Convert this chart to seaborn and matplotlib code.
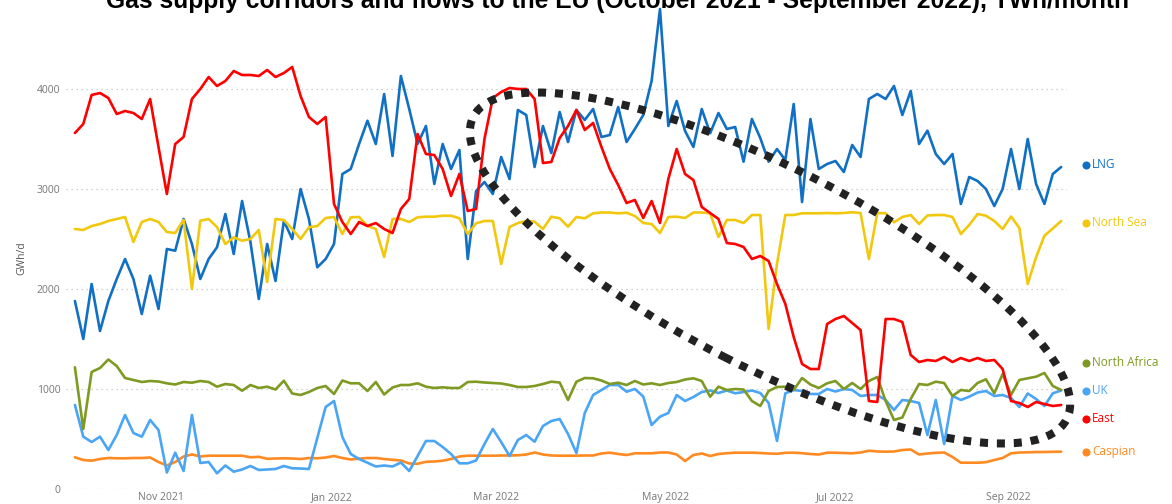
import pandas as pd
import matplotlib.pyplot as plt
import matplotlib.dates as mdates
import matplotlib.transforms as mtransforms
from matplotlib.patches import Ellipse
import seaborn as sns

# Fechas: cada 3 dias, 1 oct 2021 - 20 sep 2022
fechas = pd.date_range("2021-10-01", "2022-09-20", freq="3D")

# Valores (GWh/d)
lng = [1880, 1500, 2050, 1580, 1880, 2100, 2300, 2100, 1750, 2133,
       1800, 2400, 2383, 2700, 2450, 2100, 2300, 2417, 2750, 2350,
       2880, 2470, 1900, 2450, 2080, 2680, 2500, 3000, 2700, 2217,
       2300, 2450, 3150, 3200, 3450, 3683, 3450, 3950, 3330, 4130,
       3800, 3450, 3630, 3050, 3450, 3200, 3390, 2300, 2980, 3070,
       2950, 3320, 3100, 3790, 3740, 3220, 3630, 3360, 3770, 3470,
       3790, 3690, 3800, 3520, 3540, 3820, 3470, 3600, 3740, 4080,
       4800, 3630, 3880, 3580, 3420, 3800, 3557, 3760, 3600, 3620,
       3273, 3700, 3510, 3273, 3400, 3290, 3850, 2870, 3700, 3200,
       3250, 3280, 3170, 3440, 3320, 3900, 3950, 3900, 4030, 3740,
       3980, 3450, 3583, 3350, 3250, 3350, 2850, 3120, 3080, 3000,
       2830, 3000, 3400, 3000, 3500, 3050, 2850, 3150, 3220]

north_sea = [2600, 2590, 2630, 2650, 2680, 2700, 2720, 2470, 2670, 2700,
             2670, 2570, 2560, 2690, 2000, 2683, 2700, 2620, 2450, 2517,
             2483, 2500, 2590, 2070, 2700, 2690, 2600, 2500, 2617, 2630,
             2710, 2720, 2550, 2717, 2720, 2630, 2600, 2320, 2700, 2700,
             2670, 2717, 2723, 2723, 2733, 2733, 2707, 2550, 2657, 2680,
             2680, 2250, 2620, 2660, 2680, 2673, 2600, 2723, 2707, 2623,
             2720, 2707, 2757, 2765, 2765, 2757, 2763, 2730, 2660, 2650,
             2560, 2720, 2723, 2710, 2765, 2765, 2757, 2520, 2690, 2690,
             2660, 2740, 2740, 1600, 2250, 2740, 2740, 2757, 2757, 2757,
             2760, 2757, 2760, 2767, 2760, 2300, 2760, 2757, 2667, 2720,
             2740, 2650, 2735, 2740, 2740, 2720, 2550, 2640, 2750, 2733,
             2680, 2600, 2725, 2610, 2050, 2317, 2533, 2605, 2680]

north_africa = [1217, 600, 1170, 1210, 1295, 1230, 1110, 1090, 1070, 1080,
                1075, 1057, 1045, 1070, 1063, 1080, 1070, 1023, 1050, 1040,
                983, 1040, 1010, 1023, 995, 1083, 955, 940, 970, 1010,
                1030, 950, 1085, 1057, 1057, 980, 1070, 945, 1015, 1040,
                1040, 1057, 1023, 1010, 1017, 1010, 1010, 1070, 1073, 1065,
                1060, 1055, 1040, 1020, 1020, 1030, 1050, 1073, 1065, 890,
                1073, 1110, 1107, 1085, 1050, 1063, 1040, 1080, 1045, 1057,
                1040, 1060, 1070, 1095, 1107, 1080, 923, 1023, 990, 1000,
                995, 880, 830, 980, 1020, 1023, 990, 1110, 1045, 1010,
                1057, 1080, 1000, 1060, 1000, 1080, 1120, 880, 690, 715,
                900, 1050, 1040, 1073, 1060, 930, 990, 980, 1060, 1097,
                957, 1150, 940, 1090, 1107, 1123, 1160, 1030, 990]

uk = [840, 523, 470, 523, 390, 540, 740, 560, 523, 690,
      590, 165, 363, 180, 740, 260, 270, 157, 235, 173,
      195, 230, 190, 195, 200, 230, 207, 205, 200, 510,
      820, 880, 520, 350, 300, 263, 225, 235, 225, 265,
      180, 330, 480, 480, 420, 350, 257, 257, 285, 450,
      600, 470, 330, 490, 540, 473, 630, 680, 700, 550,
      360, 760, 940, 990, 1040, 1040, 973, 1000, 925, 640,
      723, 760, 940, 880, 920, 970, 985, 960, 985, 957,
      970, 985, 960, 860, 480, 957, 990, 980, 950, 950,
      1000, 975, 1000, 990, 930, 940, 940, 890, 790, 890,
      880, 860, 540, 890, 450, 930, 890, 923, 965, 980,
      930, 940, 910, 820, 955, 900, 830, 957, 985]

east = [3560, 3650, 3940, 3960, 3910, 3750, 3780, 3760, 3700, 3900,
        3420, 2950, 3450, 3520, 3900, 4000, 4120, 4030, 4080, 4180,
        4140, 4140, 4130, 4190, 4120, 4160, 4220, 3930, 3720, 3650,
        3720, 2850, 2670, 2550, 2670, 2630, 2660, 2600, 2560, 2800,
        2900, 3550, 3350, 3340, 3200, 2930, 3150, 2780, 2800, 3500,
        3910, 3970, 4010, 4000, 4000, 3900, 3260, 3270, 3510, 3630,
        3790, 3590, 3660, 3420, 3200, 3040, 2860, 2890, 2710, 2880,
        2660, 3100, 3400, 3150, 3090, 2820, 2760, 2700, 2460, 2450,
        2420, 2300, 2330, 2280, 2050, 1850, 1520, 1250, 1200, 1200,
        1650, 1700, 1730, 1660, 1590, 880, 870, 1700, 1700, 1670,
        1340, 1270, 1290, 1280, 1320, 1270, 1310, 1280, 1310, 1280,
        1290, 1200, 880, 860, 820, 870, 850, 830, 840]

caspian = [317, 290, 283, 300, 310, 307, 307, 310, 310, 315,
           270, 235, 270, 325, 345, 325, 333, 333, 333, 333,
           333, 317, 322, 302, 305, 307, 305, 300, 310, 307,
           315, 330, 310, 295, 303, 310, 310, 300, 292, 285,
           255, 252, 272, 275, 283, 300, 325, 333, 333, 333,
           333, 335, 335, 337, 345, 365, 345, 335, 333, 333,
           333, 335, 335, 355, 363, 350, 340, 357, 357, 357,
           365, 365, 345, 280, 340, 355, 330, 350, 358, 363,
           363, 363, 360, 355, 352, 362, 363, 358, 350, 345,
           363, 363, 360, 357, 365, 383, 375, 373, 375, 390,
           395, 345, 355, 362, 365, 320, 263, 263, 263, 268,
           290, 310, 357, 365, 367, 370, 370, 372, 373]

series = {"LNG": lng, "North Sea": north_sea, "North Africa": north_africa,
          "UK": uk, "East": east, "Caspian": caspian}
colores = {"LNG": "#1170C4", "North Sea": "#F2C80F", "North Africa": "#7F9A23",
           "UK": "#4AA5F5", "East": "#FF0000", "Caspian": "#FF8A22"}
orden = ["Caspian", "UK", "North Africa", "LNG", "North Sea", "East"]

# posicion vertical de las etiquetas de la derecha (ya separadas)
etiquetas_y = {"LNG": 3240, "North Sea": 2660, "North Africa": 1260,
               "UK": 980, "East": 700, "Caspian": 370}

for k, v in series.items():
    assert len(v) == len(fechas), (k, len(v))

df = pd.DataFrame({"fecha": fechas, **series})
df = df.melt(id_vars="fecha", var_name="corredor", value_name="GWh/d")

sns.set_theme(style="white")
plt.rcParams["font.family"] = ["Open Sans", "DejaVu Sans"]

W, H = 1172, 504
fig = plt.figure(figsize=(W / 100, H / 100), dpi=100)
ax = fig.add_axes([66 / W, 15 / H, (1067 - 66) / W, 485 / H])

sns.lineplot(data=df, x="fecha", y="GWh/d", hue="corredor", hue_order=orden,
             palette=colores, linewidth=1.9, legend=False, ax=ax)

inicio = pd.Timestamp("2021-10-01")
ax.set_xlim(inicio - pd.Timedelta(days=3.2), inicio + pd.Timedelta(days=356.1))
ax.set_ylim(0, 4850)
ax.set_yticks([0, 1000, 2000, 3000, 4000])
ax.xaxis.set_major_locator(mdates.MonthLocator(bymonth=[1, 3, 5, 7, 9, 11]))
ax.xaxis.set_major_formatter(mdates.DateFormatter("%b %Y"))
ax.yaxis.grid(True, linestyle=(0, (1, 3)), color="#c4c4c4", linewidth=0.9)
ax.set_axisbelow(True)
ax.tick_params(axis="both", length=0, labelsize=7.5, labelcolor="#777777")
ax.tick_params(axis="y", pad=4)
ax.tick_params(axis="x", pad=2)
ax.set_xlabel("")
ax.set_ylabel("")
for s in ax.spines.values():
    s.set_visible(False)

fig.text(22 / W, 1 - 258 / H, "GWh/d", rotation=90, ha="center", va="center",
         fontsize=7.5, color="#555555")

# etiquetas al final de cada serie
mezcla = mtransforms.blended_transform_factory(fig.transFigure, ax.transData)
for nombre, yv in etiquetas_y.items():
    ax.scatter([1086 / W], [yv], s=34, color=colores[nombre], transform=mezcla,
               clip_on=False, zorder=5, linewidths=0)
    ax.text(1092 / W, yv, nombre, transform=mezcla, va="center", ha="left",
            fontsize=8.5, color=colores[nombre], clip_on=False)

# titulo (cortado arriba como en el original)
fig.text(618 / W, 1 - 8 / H,
         "Gas supply corridors and flows to the EU (October 2021 - September 2022), TWh/month",
         ha="center", va="baseline", fontsize=17.7, fontweight="bold",
         family="Liberation Sans", color="black")

# elipse punteada
fig.add_artist(Ellipse((7.70, 2.36), 6.66, 2.0, angle=-27,
                       transform=fig.dpi_scale_trans, fill=False,
                       edgecolor="#222222", linewidth=5.8,
                       linestyle=(0, (1.0, 1.1))))

fig.savefig("out.png", dpi=100)
